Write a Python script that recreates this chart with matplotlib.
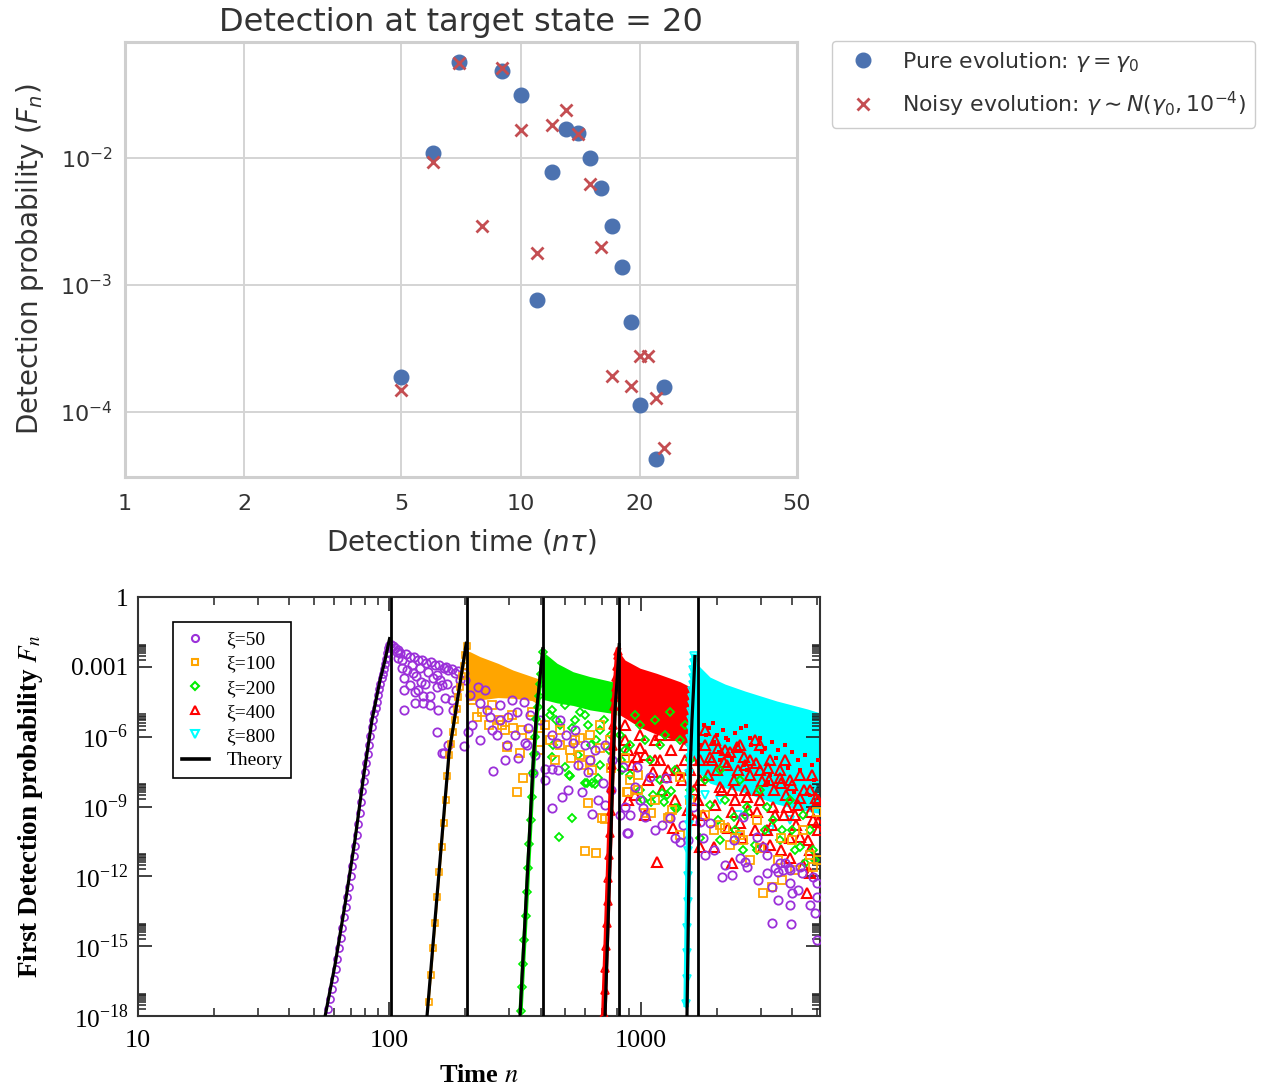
import numpy as np
import matplotlib
matplotlib.use('Agg')
import matplotlib.pyplot as plt
from matplotlib.lines import Line2D
from matplotlib.ticker import NullLocator, FixedLocator

# ======================= Top panel data =======================
top_title = 'Detection at target state = 20'
top_xticks = [1, 2, 5, 10, 20, 50]
top_yticks = [1e-4, 1e-3, 1e-2]
pure_n = [5, 6, 7, 9, 10, 11, 12, 13, 14, 15, 16, 17, 18, 19, 20, 22, 23]
pure_F = [1.89e-4, 1.09e-2, 5.70e-2, 4.84e-2, 3.13e-2, 7.6e-4, 7.76e-3, 1.69e-2, 1.57e-2,
          1.00e-2, 5.8e-3, 2.92e-3, 1.39e-3, 5.1e-4, 1.13e-4, 4.26e-5, 1.57e-4]
noisy_n = [5, 6, 7, 8, 9, 10, 11, 12, 13, 14, 15, 16, 17, 19, 20, 21, 22, 23]
noisy_F = [1.49e-4, 9.3e-3, 5.61e-2, 2.92e-3, 5.11e-2, 1.66e-2, 1.79e-3, 1.82e-2, 2.39e-2,
           1.55e-2, 6.24e-3, 1.99e-3, 1.92e-4, 1.60e-4, 2.76e-4, 2.76e-4, 1.29e-4, 5.2e-5]

# ======================= Bottom panel data =======================
xi_labels = ['ξ=50', 'ξ=100', 'ξ=200', 'ξ=400', 'ξ=800']
bot_xticks = [10, 100, 1000]
bot_yticks = [1e-18, 1e-15, 1e-12, 1e-9, 1e-6, 1e-3, 1]
bot_ytick_labels = [r'10$^{\mathregular{-18}}$', r'10$^{\mathregular{-15}}$', r'10$^{\mathregular{-12}}$',
                    r'10$^{\mathregular{-9}}$', r'10$^{\mathregular{-6}}$', '0.001', '1']

# theory curves: (n, log10 F)
theory50 = [(54.8, -18.3), (60.7, -15.81), (66.5, -13.23), (72.9, -10.44), (78.5, -7.86),
            (85.2, -5.28), (91.7, -3.57), (96.0, -2.71), (100.4, -1.72)]
theory100 = [(140.5, -18.2), (155.9, -12.35), (172.5, -6.70), (180.5, -5.37), (188.9, -3.99),
             (196.0, -2.89), (202.4, -1.92)]
theory200 = [(330.0, -18.1), (373.2, -7.00), (384.9, -4.85), (396.8, -3.42), (407.7, -2.15)]
theory400 = [(719.0, -18.1), (776.2, -7.00), (788.3, -4.85), (805.1, -3.42), (819.9, -1.98)]
theory800 = [(1523.3, -18.1), (1573.4, -7.00), (1595.2, -5.28), (1617.0, -3.99), (1639.3, -2.49)]
theory_cut_n = [101.4, 203.3, 407.7, 817.5, 1680]

# simulation markers on the rising edge: (n, log10 F)
rise50 = [(57, -17.7), (58, -17.27), (59, -16.85), (60, -16.42), (61, -16.0), (62, -15.55), (63, -15.1),
          (64, -14.65), (65, -14.2), (66, -13.75), (67, -13.3), (68, -12.87), (69, -12.45), (70, -12.0),
          (71, -11.55), (72, -11.12), (73, -10.7), (74, -10.22), (75, -9.75), (76, -9.27), (77, -8.8),
          (78, -8.35), (79, -7.9), (80, -7.52), (81, -7.15), (82, -6.75), (83, -6.35), (84, -5.97),
          (85, -5.6), (86, -5.3), (87, -5.0), (88, -4.75), (89, -4.5), (90, -4.22), (91, -3.95),
          (92, -3.72), (93, -3.5), (94, -3.3), (95, -3.1), (96, -2.87), (97, -2.65), (98, -2.42),
          (99, -2.2), (100, -2.05), (101, -2.0)]
rise100 = [(143, -17.4), (146, -16.25), (149, -15.1), (152, -14.0), (155, -12.9), (158, -11.8),
           (161, -10.75), (164, -9.7), (167, -8.7), (170, -7.7), (173, -6.8), (176, -6.3), (179, -5.8),
           (182, -5.3), (185, -4.8), (188, -4.3), (191, -3.85), (194, -3.4), (197, -2.95), (200, -2.5),
           (203, -2.1)]
rise200 = [(332, -17.8), (336, -16.77), (340, -15.75), (344, -14.72), (348, -13.7), (352, -12.68),
           (356, -11.65), (360, -10.63), (364, -9.6), (368, -8.58), (372, -7.55), (376, -6.73),
           (380, -6.0), (384, -5.25), (388, -4.73), (392, -4.24), (396, -3.75), (400, -3.29),
           (404, -2.83), (408, -2.38)]
rise400 = [(712, -17.9), (717, -16.9), (722, -15.95), (727, -14.98), (732, -14.0), (737, -13.05),
           (742, -12.08), (747, -11.1), (752, -10.15), (757, -9.18), (762, -8.2), (767, -7.23),
           (772, -6.4), (777, -5.5), (782, -4.7), (787, -4.28), (792, -3.85), (797, -3.42),
           (802, -2.95), (807, -2.5), (812, -2.3)]
rise800 = [(1512, -17.5), (1517, -16.4), (1522, -15.3), (1527, -14.2), (1532, -13.1), (1537, -12.0),
           (1542, -10.9), (1547, -9.8), (1552, -8.7), (1557, -7.6), (1562, -6.9), (1567, -6.5),
           (1572, -6.1), (1577, -5.7), (1582, -5.3), (1587, -4.95), (1592, -4.65), (1597, -4.35),
           (1602, -4.05), (1607, -3.8), (1612, -3.5), (1617, -3.15), (1622, -2.85), (1627, -2.55)]

# densely overlapping markers after the peak (drawn as bands): n, upper / lower log10 F
band100_n = [201, 209, 229, 270, 310, 369, 393]
band100_hi = [-2.32, -2.35, -2.56, -2.85, -3.14, -3.42, -3.52]
band100_lo = [-4.50, -4.45, -4.42, -4.32, -4.35, -4.45, -4.64]
band200_n = [408, 415, 464, 537, 627, 770, 801]
band200_hi = [-2.19, -2.42, -2.85, -3.21, -3.42, -3.64, -3.69]
band200_lo = [-4.42, -4.42, -4.55, -4.66, -4.85, -5.0, -5.07]
band400_n = [806, 821, 826, 864, 992, 1154, 1430, 1600]
band400_hi = [-2.5, -2.3, -2.42, -2.71, -3.06, -3.28, -3.64, -3.91]
band400_lo = [-5.1, -5.07, -5.07, -5.2, -5.6, -5.9, -6.2, -6.6]
band800_n = [1590, 1640, 1717, 1881, 2158, 2591, 3474, 4590, 5149]
band800_hi = [-2.85, -2.75, -3.01, -3.44, -3.74, -4.04, -4.47, -4.81, -4.98]
band800_lo = [-7.0, -7.1, -7.6, -8.0, -8.2, -8.4, -8.9, -9.2, -9.3]

# individually visible markers after the peak: (n, log10 F)
scatter50 = [(105, -2.19), (108, -2.28), (110, -2.39), (107, -2.35), (112, -2.71), (112, -3.06), (114, -3.49),
             (114, -3.99), (114, -4.85), (121, -2.56), (123, -2.92), (124, -3.28), (126, -4.07), (126, -4.57),
             (130, -2.71), (132, -3.06), (134, -3.64), (136, -4.25), (136, -4.57), (140, -2.85), (142, -3.21),
             (145, -4.25), (145, -4.64), (152, -2.92), (154, -3.35), (154, -3.85), (154, -5.79), (164, -3.06),
             (161, -3.78), (164, -6.71), (171, -3.14), (177, -4.42), (179, -4.85), (182, -3.28), (198, -6.40),
             (205, -5.79), (225, -3.85), (229, -4.57), (251, -5.14), (275, -5.28), (297, -5.14), (322, -4.93),
             (343, -4.50), (354, -5.64), (346, -6.28), (267, -5.93), (245, -4.85), (161, -6.69), (171, -6.36),
             (259, -7.46), (325, -6.93), (352, -6.36), (443, -9.08), (484, -8.58), (584, -8.36), (640, -9.32),
             (415, -7.40), (443, -7.40), (373, -7.57), (462, -6.28), (538, -6.28), (618, -7.50), (292, -6.36),
             (708, -8.00), (877, -10.12), (864, -9.01), (947, -8.15), (1038, -9.44), (1208, -9.79),
             (1366, -10.37), (1430, -10.51), (720, -8.93), (905, -9.36), (891, -10.12), (1475, -9.79),
             (2096, -12.01), (2297, -11.94), (2591, -11.37), (2632, -11.58), (3164, -11.87), (3316, -12.44),
             (3410, -11.64), (3570, -11.43), (3738, -11.43), (3875, -11.64), (3505, -11.81), (3670, -11.73),
             (3912, -12.30), (3974, -12.73), (3912, -13.23), (3316, -14.02), (3940, -14.06), (4287, -11.58),
             (4354, -11.87), (4845, -12.01), (4996, -12.30), (2890, -10.30), (3070, -10.73), (3164, -11.08),
             (2333, -10.44), (1943, -10.87), (1717, -9.65), (1771, -10.37), (1022, -9.08), (850, -7.29),
             (962, -7.29), (1086, -7.72), (1260, -7.79), (1606, -9.01), (1881, -9.72), (2550, -9.44),
             (4918, -13.59), (4996, -12.87), (4996, -14.73), (477, -5.28), (503, -5.93), (547, -5.71),
             (599, -6.36), (657, -6.57), (441, -5.93), (720, -6.36), (770, -7.00), (627, -7.00), (209, -4.21),
             (275, -4.64), (362, -5.07), (397, -5.28), (240, -3.99), (307, -4.42), (200, -3.57),
             (103, -2.10), (116, -2.45), (125, -2.58), (135, -2.71), (146, -2.79), (157, -2.92), (168, -3.01),
             (178, -3.09), (187, -3.18), (197, -3.26), (108, -2.62), (117, -3.14), (128, -3.39), (138, -3.74),
             (149, -3.48), (159, -3.57), (169, -3.74), (191, -3.57), (184, -3.99), (166, -4.34), (156, -4.85),
             (121, -3.78), (130, -3.99),
             (213, -5.50), (229, -6.14), (256, -5.71), (288, -7.00), (316, -5.93), (379, -6.79), (415, -7.86),
             (468, -7.43), (513, -8.29), (562, -7.22), (675, -8.72), (760, -8.29), (826, -9.36), (992, -8.72),
             (1137, -10.01), (1305, -9.49), (1537, -10.44), (1797, -11.08), (2158, -11.51), (2475, -11.21),
             (2922, -12.16), (3505, -13.02), (4209, -12.59), (4699, -13.23), (3912, -11.73)]
scatter100 = [(219, -3.57), (223, -4.07), (245, -3.64), (249, -5.50), (272, -5.28), (288, -5.71), (292, -6.43),
              (310, -5.64), (330, -6.71), (223, -5.14), (340, -7.79), (320, -8.39), (525, -6.93), (572, -6.79),
              (582, -7.22), (618, -8.84), (599, -10.91), (664, -11.01), (640, -7.43), (905, -7.86), (891, -8.36),
              (1038, -9.29), (1101, -9.29), (1305, -9.44), (700, -9.51), (970, -7.65), (877, -8.36),
              (1283, -9.51), (1430, -10.22), (1943, -10.01), (2158, -9.94), (2365, -10.37), (2550, -10.44),
              (3070, -12.73), (3316, -12.44), (3636, -12.16), (2890, -9.58), (3604, -10.37), (3997, -10.44),
              (4420, -10.01), (4845, -11.58), (4996, -9.22), (1430, -7.72), (720, -9.55), (362, -5.93),
              (415, -5.50), (477, -6.36), (547, -6.14), (627, -5.93), (687, -5.50), (753, -6.14), (455, -7.00),
              (397, -6.57), (5040, -11.30),
              (213, -4.42), (233, -4.94), (256, -4.64), (280, -5.50), (307, -5.07), (337, -5.71), (369, -4.94),
              (397, -5.63), (435, -6.14), (477, -5.71), (522, -6.57), (572, -6.06), (627, -7.00), (687, -6.49),
              (760, -7.35), (864, -6.92), (970, -8.29), (1137, -8.72), (1330, -9.15), (1566, -8.72),
              (1797, -9.36), (2061, -9.79), (2475, -10.22), (2973, -10.78), (3505, -11.30), (4096, -11.73),
              (4699, -11.08), (2713, -11.30), (2259, -10.65)]
scatter200 = [(499, -7.32), (522, -7.69), (531, -9.48), (473, -10.30), (444, -6.86), (599, -7.98), (640, -8.00),
              (672, -7.79), (635, -6.36), (515, -7.65), (609, -8.00), (657, -8.03), (1366, -9.08), (1214, -8.42),
              (1273, -8.51), (1317, -8.33), (746, -6.57), (840, -7.43), (1022, -8.72), (1101, -8.79),
              (1229, -8.79), (1388, -9.08), (1118, -8.51), (1717, -10.37), (2025, -9.58), (2333, -9.44),
              (2550, -10.87), (2890, -10.87), (3636, -10.01), (3997, -10.01), (4287, -10.73), (4488, -11.44),
              (4845, -10.87), (3350, -9.58), (1881, -8.93), (2632, -9.01), (3164, -9.01), (4420, -9.36),
              (435, -5.07), (477, -5.50), (547, -5.28), (687, -5.71), (599, -5.07), (826, -5.93), (992, -5.50),
              (1191, -6.36), (1430, -6.14), (905, -6.36), (1086, -7.00), (1566, -7.00), (2061, -7.43),
              (2475, -7.86), (2973, -8.29), (3912, -8.72), (947, -5.07), (1137, -5.28), (1305, -4.94),
              (1496, -5.50), (1246, -5.93), (864, -6.57), (1038, -6.14),
              (441, -4.85), (460, -5.28), (499, -4.64), (532, -5.63), (572, -4.94), (616, -5.50), (663, -6.14),
              (713, -5.28), (760, -5.93), (448, -6.36), (562, -6.79), (687, -7.22), (833, -7.00), (905, -7.65),
              (992, -8.29), (1191, -7.86), (1366, -7.43), (1566, -8.29), (1797, -7.86), (2158, -8.72),
              (2591, -9.36), (3112, -10.01), (3570, -10.44), (4096, -10.87), (4699, -10.01), (4918, -11.30),
              (2365, -10.01), (2840, -10.65), (2061, -10.44)]
scatter400 = [(962, -6.86), (947, -8.51), (1118, -7.50), (1260, -7.72), (1317, -6.57), (1388, -7.43),
              (1346, -9.94), (1159, -11.37), (1717, -10.73), (1943, -10.73), (2297, -11.44), (1881, -6.86),
              (2000, -7.43), (2061, -8.15), (2333, -7.86), (2591, -7.22), (2632, -8.58), (2922, -8.29),
              (3219, -7.86), (3350, -9.01), (3604, -8.00), (3799, -9.01), (4287, -8.65), (4845, -9.58),
              (3164, -10.01), (3604, -10.87), (4287, -10.30), (4556, -12.73), (4699, -11.87), (2475, -9.72),
              (2890, -9.22), (2297, -9.22), (1771, -9.36), (2404, -6.43), (3070, -10.73), (3912, -10.37),
              (1797, -5.71), (1969, -6.14), (2158, -6.57), (2475, -6.36), (2713, -7.00), (2973, -7.43),
              (3258, -7.00), (3570, -7.43), (3912, -7.86), (4287, -7.65), (4699, -8.29), (5040, -8.72),
              (2840, -6.14), (2208, -7.22), (4096, -9.36), (3410, -9.36), (2591, -8.29), (4699, -10.87),
              (5040, -10.01), (1717, -7.86), (1606, -7.00), (1680, -8.72), (864, -5.50), (992, -5.93),
              (1137, -6.14), (1305, -5.93), (1496, -6.36), (1038, -6.79), (1191, -7.00), (1566, -7.43),
              (888, -6.57),
              (1797, -6.36), (1916, -7.00), (2024, -6.49), (2138, -7.09), (2259, -6.66), (2430, -7.43),
              (2567, -6.87), (2713, -7.65), (2866, -7.13), (3028, -7.90), (3199, -7.35), (3379, -8.29),
              (3570, -7.78), (3772, -8.51), (3984, -8.08), (4209, -8.93), (4447, -8.29), (4699, -9.24),
              (4963, -8.63), (1847, -7.65), (2099, -8.29), (2365, -8.72), (2664, -9.15), (2973, -8.72),
              (3318, -9.79), (3704, -9.36), (4134, -9.79), (4614, -10.44), (5055, -9.66), (1969, -8.93),
              (2218, -9.92), (2521, -10.35), (2840, -10.01), (3912, -11.21), (4406, -11.51), (3258, -10.65),
              (2301, -8.29), (1717, -7.00), (2973, -6.36), (3738, -7.00), (4786, -7.65),
              (864, -6.14), (922, -7.22), (992, -6.49), (1067, -7.86), (1137, -7.00), (1212, -8.29),
              (1282, -7.43), (1366, -8.72), (1459, -7.86), (1537, -9.15), (1625, -8.29), (888, -8.72),
              (1038, -9.36), (1191, -5.93), (1496, -7.00), (1640, -9.58)]
specks400 = [(1780, -5.50), (1864, -5.63), (1935, -5.41), (2004, -5.93), (2115, -5.71), (2228, -6.14),
             (2365, -5.84), (2505, -5.63), (2611, -5.54), (2738, -6.36), (2973, -6.06), (3112, -6.49),
             (3317, -6.23), (3505, -6.57), (3738, -6.36), (3983, -6.66), (4213, -7.00), (4488, -6.79),
             (4785, -7.22), (5040, -7.00), (1717, -6.36), (2043, -6.66), (2306, -7.00), (2632, -7.43),
             (3258, -7.65), (1814, -5.93), (1951, -6.23), (2178, -6.06), (2430, -6.36), (2713, -6.06),
             (3028, -6.66), (3442, -6.92), (3840, -7.35), (4287, -7.43), (4872, -7.86), (2061, -7.00),
             (2567, -7.22), (3199, -7.95), (4059, -8.38), (4699, -8.51)]
scatter800 = [(2404, -10.30), (1771, -7.00), (2440, -9.36), (2973, -8.51), (2061, -8.72), (3912, -9.58),
              (4785, -8.29), (3258, -10.01), (1797, -8.51)]

# ======================= styling =======================
C50, C100, C200, C400, C800 = '#9B30D9', '#FFA500', '#00EE00', '#FF0000', '#00FFFF'
SERIF = 'Liberation Serif'


def unz(pairs):
    n, lf = zip(*pairs)
    return np.asarray(n, float), 10.0 ** np.asarray(lf, float)


fig = plt.figure(figsize=(12.65, 10.92), dpi=100)
fig.patch.set_facecolor('white')

# ---------------------------------------------------------------- top panel
ax1 = fig.add_axes([125 / 1265, 1 - 477 / 1092, 672 / 1265, 435 / 1092])
ax1.set_xscale('log')
ax1.set_yscale('log')
ax1.plot(pure_n, pure_F, ls='none', marker='o', ms=10.5, color='#4C72B0',
         label=r'Pure evolution: $\gamma = \gamma_0$', zorder=3)
ax1.plot(noisy_n, noisy_F, ls='none', marker='x', ms=8.5, mew=2.0, color='#C44E52',
         label=r'Noisy evolution: $\gamma \sim N(\gamma_0, 10^{-4})$', zorder=4)
ax1.set_xlim(1, 50)
ax1.set_ylim(3.07e-5, 0.0818)
ax1.xaxis.set_major_locator(FixedLocator(top_xticks))
ax1.set_xticklabels([str(v) for v in top_xticks])
ax1.xaxis.set_minor_locator(NullLocator())
ax1.yaxis.set_major_locator(FixedLocator(top_yticks))
ax1.set_yticklabels([r'$10^{-4}$', r'$10^{-3}$', r'$10^{-2}$'])
ax1.yaxis.set_minor_locator(NullLocator())
ax1.grid(True, which='major', color='#d4d4d4', lw=1.4)
ax1.set_axisbelow(True)
for s in ax1.spines.values():
    s.set_color('#cfcfcf')
    s.set_linewidth(2.2)
ax1.tick_params(axis='both', length=0, labelsize=16, labelcolor='#333333')
ax1.tick_params(axis='x', pad=12)
ax1.tick_params(axis='y', pad=9)
ax1.set_title(top_title, fontsize=23, color='#333333', pad=8)
ax1.set_xlabel(r'Detection time ($n\tau$)', fontsize=20, color='#333333', labelpad=10)
ax1.set_ylabel(r'Detection probability ($F_n$)', fontsize=20, color='#333333', labelpad=10)
leg1 = ax1.legend(loc='upper left', bbox_to_anchor=(832 / 1265, 1 - 41 / 1092),
                  bbox_transform=fig.transFigure, fontsize=15.8, borderaxespad=0,
                  frameon=True, fancybox=True, framealpha=1, edgecolor='#cccccc',
                  labelspacing=0.72, labelcolor='#333333')

# ---------------------------------------------------------------- bottom panel
ax2 = fig.add_axes([138 / 1265, 1 - 1016 / 1092, 682 / 1265, 419 / 1092])
ax2.set_xscale('log')
ax2.set_yscale('log')

bands = [(band800_n, band800_hi, band800_lo, C800, 1),
         (band400_n, band400_hi, band400_lo, C400, 2),
         (band200_n, band200_hi, band200_lo, C200, 3),
         (band100_n, band100_hi, band100_lo, C100, 4)]
for bn, bhi, blo, c, z in bands:
    ax2.fill_between(bn, 10.0 ** np.asarray(blo), 10.0 ** np.asarray(bhi),
                     color=c, lw=0, zorder=z)

sn, sf = unz(specks400)
ax2.plot(sn, sf, ls='none', marker='s', ms=3.2, color=C400, mew=0, zorder=5)

mk = {'50': ('o', 6.0, C50), '100': ('s', 5.5, C100), '200': ('D', 4.5, C200),
      '400': ('^', 6.3, C400), '800': ('v', 6.0, C800)}
scat = [(scatter800, '800', 6, 1.0), (scatter400, '400', 7, 1.15), (scatter200, '200', 8, 1.0),
        (scatter100, '100', 9, 1.0), (scatter50, '50', 10, 1.0)]
for pairs, key, z, scale in scat:
    m, ms, c = mk[key]
    n, f = unz(pairs)
    ax2.plot(n, f, ls='none', marker=m, ms=ms * scale, mfc='none', mec=c,
             mew=1.3 * scale, zorder=z)

rises = [(rise800, '800', 4.0), (rise400, '400', 4.0), (rise200, '200', 3.0),
         (rise100, '100', 1.6), (rise50, '50', 0)]
for pairs, key, lw in rises:
    m, ms, c = mk[key]
    n, f = unz(pairs)
    if lw > 0:
        ax2.plot(n, f, '-', color=c, lw=lw, zorder=11)
    ax2.plot(n, f, ls='none', marker=m, ms=ms * 0.85, mfc='none', mec=c, mew=1.2, zorder=11)

for th in [theory50, theory100, theory200, theory400, theory800]:
    n, f = unz(th)
    ax2.plot(n, f, '-', color='black', lw=2.3, zorder=13, solid_capstyle='butt')
ax2.vlines(theory_cut_n, 1e-18, 1, colors='black', lw=2.0, zorder=13)

ax2.set_xlim(10, 5150)
ax2.set_ylim(1e-18, 1)
ax2.xaxis.set_major_locator(FixedLocator(bot_xticks))
ax2.set_xticklabels([str(v) for v in bot_xticks], fontfamily=SERIF, fontsize=18.8)
ax2.xaxis.set_minor_locator(FixedLocator([m * 10 ** k for k in (1, 2, 3) for m in range(2, 10)
                                          if m * 10 ** k < 5150]))
ax2.yaxis.set_major_locator(FixedLocator(bot_yticks))
ax2.set_yticklabels(bot_ytick_labels, fontfamily=SERIF, fontsize=18.3)
ax2.yaxis.set_minor_locator(FixedLocator([m * 10.0 ** (-3 * k) for k in range(1, 7) for m in range(2, 10)]))
ax2.tick_params(which='both', direction='in', top=True, right=True, color='#222222')
ax2.tick_params(which='major', length=10, width=1.2)
ax2.tick_params(which='minor', length=5.5, width=1.1)
ax2.tick_params(axis='x', which='major', pad=10)
ax2.tick_params(axis='y', which='major', pad=7)
for s in ax2.spines.values():
    s.set_color('#333333')
    s.set_linewidth(1.5)
ax2.set_xlabel(r'Time $n$', fontfamily=SERIF, fontweight='bold', fontsize=19,
               math_fontfamily='stix', labelpad=9)
ax2.set_ylabel(r'First Detection probability $F_n$', fontfamily=SERIF, fontweight='bold',
               fontsize=19.5, math_fontfamily='stix', labelpad=19)

handles = [Line2D([], [], ls='none', marker=mk[k][0], ms=mk[k][1] * 0.85, mfc='none',
                  mec=mk[k][2], mew=1.5) for k in ('50', '100', '200', '400', '800')]
handles.append(Line2D([], [], color='black', lw=2.6))
leg2 = ax2.legend(handles, xi_labels + ['Theory'], loc='upper left',
                  bbox_to_anchor=(35 / 682, (1016 - 622) / 419), borderaxespad=0,
                  fancybox=False, edgecolor='black', framealpha=1,
                  prop={'family': SERIF, 'size': 14}, handlelength=1.4,
                  handletextpad=0.9, labelspacing=0.34, borderpad=0.45)
leg2.get_frame().set_linewidth(1.2)
leg2.set_zorder(20)

fig.savefig('out.png', dpi=100, facecolor='white')
